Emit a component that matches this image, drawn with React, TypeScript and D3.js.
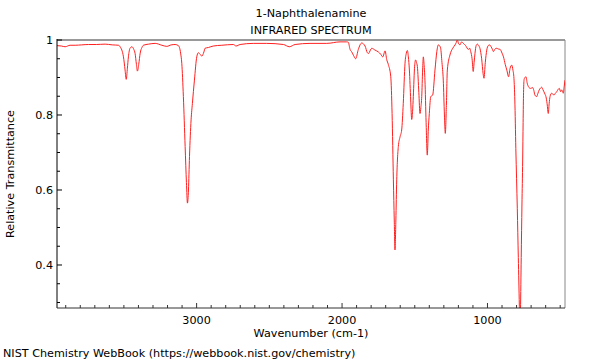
import React from 'react'
import * as d3 from 'd3'

// spectrum (cm-1 / relative transmittance)
const wavenumber = [
  3960, 3930, 3904, 3870, 3835, 3790, 3744, 3690, 3629, 3580, 3537, 3526, 3503, 3492, 3484, 3476, 3469, 3458, 3445, 3432,
  3423, 3414, 3407, 3398, 3388, 3376, 3366, 3330, 3285, 3239, 3205, 3175, 3148, 3125, 3110, 3102, 3091, 3079, 3070, 3063,
  3056, 3049, 3038, 3029, 3015, 2999, 2988, 2976, 2964, 2950, 2942, 2919, 2885, 2827, 2747, 2729, 2701, 2610, 2518, 2403,
  2362, 2323, 2220, 2105, 2014, 1968, 1957, 1945, 1933, 1920, 1906, 1888, 1865, 1842, 1826, 1819, 1796, 1773, 1750, 1734,
  1720, 1704, 1693, 1682, 1665, 1656, 1647, 1641, 1636, 1630, 1624, 1613, 1601, 1590, 1579, 1567, 1558, 1551, 1544, 1537,
  1528, 1521, 1515, 1510, 1501, 1494, 1488, 1482, 1472, 1464, 1458, 1452, 1446, 1441, 1436, 1430, 1422, 1414, 1407, 1400,
  1390, 1377, 1361, 1348, 1338, 1330, 1322, 1313, 1304, 1296, 1290, 1283, 1276, 1258, 1239, 1223, 1215, 1208, 1198, 1189,
  1178, 1166, 1150, 1132, 1122, 1115, 1106, 1098, 1092, 1086, 1078, 1070, 1060, 1052, 1040, 1030, 1024, 1015, 1005, 995,
  986, 975, 966, 959, 950, 940, 925, 913, 900, 890, 878, 867, 855, 845, 833, 825, 818, 812, 805, 795,
  788, 781, 777, 773, 768, 763, 758, 755, 752, 748, 742, 735, 727, 719, 711, 703, 689, 681, 674, 662,
  653, 644, 635, 627, 619, 612, 605, 598, 590, 582, 576, 570, 559, 551, 543, 533, 524, 515, 506, 497,
  490, 483, 479, 473, 467,
]
const transmittance = [
  0.985, 0.984, 0.982, 0.986, 0.986, 0.987, 0.988, 0.988, 0.989, 0.987, 0.986, 0.982, 0.955, 0.92, 0.895, 0.925, 0.955, 0.978, 0.982, 0.975,
  0.964, 0.935, 0.917, 0.935, 0.965, 0.98, 0.986, 0.989, 0.991, 0.986, 0.983, 0.987, 0.988, 0.985, 0.965, 0.938, 0.849, 0.716, 0.62, 0.565,
  0.6, 0.689, 0.787, 0.831, 0.893, 0.955, 0.966, 0.962, 0.957, 0.968, 0.978, 0.98, 0.984, 0.986, 0.988, 0.984, 0.988, 0.991, 0.991, 0.988,
  0.982, 0.988, 0.991, 0.991, 0.995, 0.995, 0.994, 0.975, 0.968, 0.958, 0.95, 0.975, 0.992, 0.984, 0.966, 0.964, 0.978, 0.973, 0.968, 0.962,
  0.955, 0.971, 0.948, 0.935, 0.902, 0.804, 0.627, 0.52, 0.44, 0.52, 0.627, 0.716, 0.742, 0.76, 0.831, 0.938, 0.965, 0.972, 0.955, 0.92,
  0.84, 0.788, 0.81, 0.849, 0.93, 0.947, 0.94, 0.929, 0.86, 0.804, 0.82, 0.849, 0.92, 0.955, 0.935, 0.893, 0.78, 0.693, 0.76, 0.804,
  0.849, 0.853, 0.92, 0.97, 0.987, 0.985, 0.978, 0.94, 0.893, 0.8, 0.751, 0.82, 0.92, 0.96, 0.978, 0.987, 0.993, 1.0, 0.99, 0.987,
  0.995, 0.991, 0.985, 0.975, 0.978, 0.969, 0.95, 0.916, 0.94, 0.964, 0.985, 0.989, 0.985, 0.978, 0.95, 0.91, 0.898, 0.94, 0.973, 0.985,
  0.987, 0.982, 0.975, 0.969, 0.975, 0.978, 0.976, 0.975, 0.965, 0.955, 0.935, 0.92, 0.902, 0.924, 0.933, 0.92, 0.898, 0.84, 0.71, 0.55,
  0.42, 0.29, 0.2, 0.28, 0.42, 0.56, 0.68, 0.78, 0.86, 0.895, 0.9, 0.902, 0.885, 0.876, 0.872, 0.871, 0.873, 0.865, 0.853, 0.849,
  0.858, 0.867, 0.872, 0.874, 0.868, 0.862, 0.856, 0.849, 0.83, 0.804, 0.83, 0.849, 0.858, 0.856, 0.853, 0.858, 0.862, 0.868, 0.871, 0.862,
  0.867, 0.862, 0.858, 0.875, 0.893,
]

const xTicks = [3000, 2000, 1000]
const yTicks = [1, 0.8, 0.6, 0.4]

const title = '1-Naphthalenamine'
const subtitle = 'INFRARED SPECTRUM'
const xLabel = 'Wavenumber (cm-1)'
const yLabel = 'Relative Transmittance'
const credit = 'NIST Chemistry WebBook (https://webbook.nist.gov/chemistry)'

const W = 600
const H = 360
const m = { left: 57, right: 565, top: 40, bottom: 308 }
const font = "'DejaVu Sans', sans-serif"
const fs = 11.2

export default function App() {
  const x = d3.scaleLinear().domain([3960, 467]).range([m.left, m.right])
  const y = d3.scaleLinear().domain([0.2853, 1.0]).range([m.bottom, m.top])

  const pts = wavenumber.map((w, i) => [w, transmittance[i]])
  const line = d3.line().x(d => x(d[0])).y(d => y(d[1])).curve(d3.curveMonotoneX)

  // minor ticks
  const xMinor = d3.range(500, 4000, 100).filter(v => !xTicks.includes(v))
  const yMinor = d3.range(0.3, 1.0, 0.05).map(v => +v.toFixed(2)).filter(v => !yTicks.includes(v))

  return (
    <svg width={W} height={H} style={{ position: 'absolute', left: 0, top: 0, background: '#fff' }} fontFamily={font}>
      <defs>
        <clipPath id="plot">
          <rect x={m.left} y={m.top} width={m.right - m.left} height={m.bottom - m.top} />
        </clipPath>
      </defs>

      <text x={(m.left + m.right) / 2} y={17} textAnchor="middle" fontSize={fs}>{title}</text>
      <text x={(m.left + m.right) / 2} y={34} textAnchor="middle" fontSize={fs}>{subtitle}</text>

      {/* frame: grey top/right, black left/bottom */}
      <line x1={m.left} x2={m.right} y1={m.top} y2={m.top} stroke="#999" strokeWidth={2} />
      <line x1={m.right} x2={m.right} y1={m.top} y2={m.bottom} stroke="#888" strokeWidth={1} />

      <path d={line(pts)} fill="none" stroke="#ff2020" strokeWidth={1} clipPath="url(#plot)" />

      <line x1={m.left} x2={m.left} y1={m.top - 1} y2={m.bottom} stroke="#000" strokeWidth={1} />
      <line x1={m.left} x2={m.right} y1={m.bottom} y2={m.bottom} stroke="#333" strokeWidth={1} />

      {xTicks.map(t => (
        <g key={t}>
          <line x1={x(t)} x2={x(t)} y1={m.bottom} y2={m.bottom - 5} stroke="#333" />
          <text x={x(t)} y={324} textAnchor="middle" fontSize={fs}>{t}</text>
        </g>
      ))}
      {xMinor.map(t => (
        <line key={t} x1={x(t)} x2={x(t)} y1={m.bottom} y2={m.bottom - 3} stroke="#333" />
      ))}

      {yTicks.map(t => (
        <g key={t}>
          <line x1={m.left} x2={m.left + 5} y1={y(t)} y2={y(t)} stroke="#000" />
          <text x={m.left - 4} y={y(t) + 4} textAnchor="end" fontSize={fs}>{t}</text>
        </g>
      ))}
      {yMinor.map(t => (
        <line key={t} x1={m.left} x2={m.left + 3} y1={y(t)} y2={y(t)} stroke="#000" />
      ))}

      <text x={(m.left + m.right) / 2} y={337} textAnchor="middle" fontSize={fs}>{xLabel}</text>
      <text transform={`translate(14,${(m.top + m.bottom) / 2}) rotate(-90)`} textAnchor="middle" fontSize={fs}>{yLabel}</text>
      <text x={3} y={357} fontSize={fs}>{credit}</text>
    </svg>
  )
}
